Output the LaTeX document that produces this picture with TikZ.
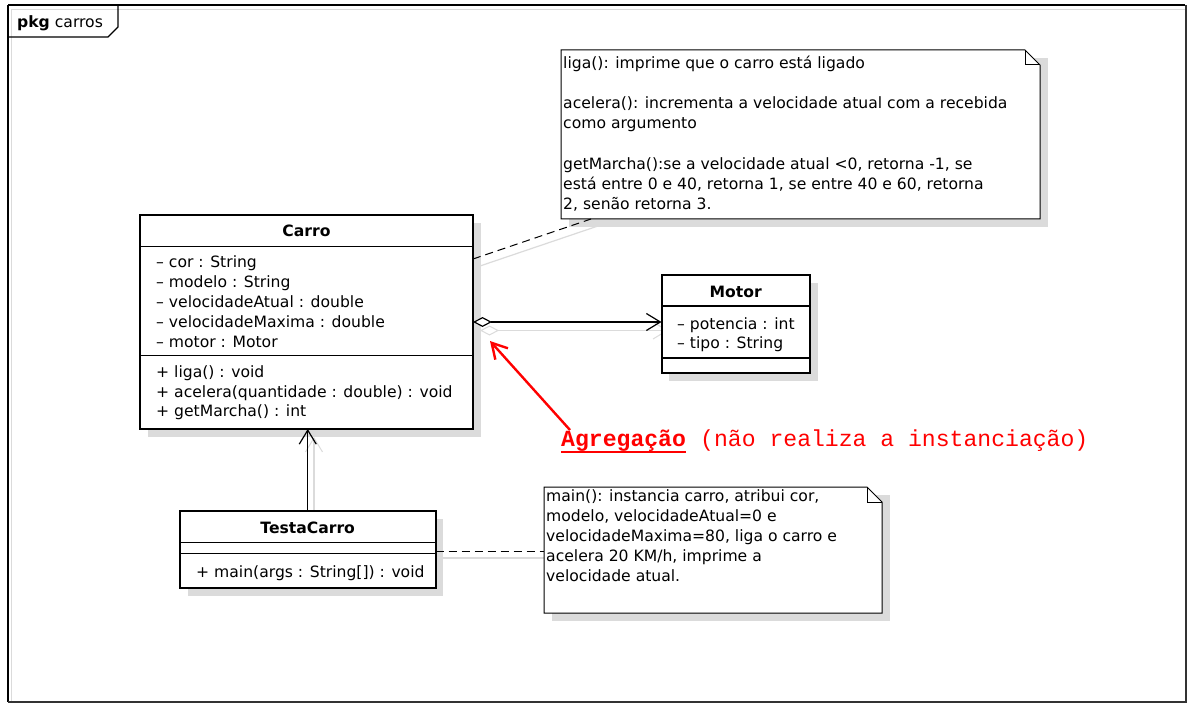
\documentclass[tikz,border=0pt]{standalone}
\usepackage{fontspec}
\setmainfont{DejaVu Sans}
\newfontfamily\redmono{Liberation Mono}
\usetikzlibrary{arrows.meta,calc}
\begin{document}
\begin{tikzpicture}[x=1pt,y=-1pt,
  umlbox/.style={draw, line width=2pt, fill=white, anchor=north west, inner sep=0pt, outer sep=0pt},
  notenode/.style={anchor=north west, inner sep=0pt, outer sep=0pt},
  shadowfill/.style={fill=black!14},
  sepline/.style={line width=1.3pt},
  txt/.style={anchor=base west, inner sep=0pt, font=\fontsize{15.6}{18}\selectfont},
  ttl/.style={anchor=base, inner sep=0pt, font=\fontsize{15.6}{18}\selectfont\bfseries},
  conn/.style={line width=1.2pt},
  ghost/.style={black!14, line width=1.2pt},
  opentip/.style={-{Straight Barb[length=14pt,width=17pt,line width=1.2pt]}},
  notelink/.style={line width=1pt, dash pattern=on 8pt off 5pt},
  notepath/.style={draw, fill=white, line width=1pt},
  redtxt/.style={anchor=base west, inner sep=0pt, text=red, font=\fontsize{23.1}{26}\redmono}
]
\useasboundingbox (0,0) rectangle (1190,708);
\fill[white] (0,0) rectangle (1190,708);

% package frame
\draw[black!14, line width=1pt] (11.5,702) -- (11.5,9.5) -- (1185,9.5);
\draw[line width=1.3pt] (8,5) -- (1185,5);
\draw[line width=1.3pt] (8,5) -- (8,702);
\draw[black!80, line width=2.2pt] (8,702) -- (1186,702) -- (1186,5);
\draw[line width=1.3pt] (8,37) -- (108,37) -- (118,27) -- (118,5);
\node[anchor=base west, inner sep=0pt, font=\fontsize{15.6}{18}\selectfont] (pkg) at (17,28) {\textbf{pkg} carros};

% ghost (shadow) connectors
\draw[ghost, {Diamond[open, length=19pt, width=10pt, line width=1pt, fill=white]}-{Straight Barb[length=14pt,width=17pt,line width=1pt]}] (480,330.5) -- (668,330.5);
\draw[ghost, -{Straight Barb[length=14pt,width=17pt,line width=1pt]}] (314,511) -- (314,437);
\draw[ghost] (442,558) -- (551,558);
\draw[ghost] (480,266) -- (598,226);

% shadows of boxes
\fill[shadowfill] (148,223) rectangle (481,437);
\fill[shadowfill] (669,283) rectangle (818,381);
\fill[shadowfill] (188,519) rectangle (443,596);
\fill[shadowfill] (569,58) rectangle (1048,227);
\fill[shadowfill] (552,495) rectangle (890,621);

% Carro
\node[umlbox, minimum width=333pt, minimum height=214pt] (carro) at (140,215) {};
\draw[sepline] ($(carro.north west)+(0,31.5)$) -- ($(carro.north east)+(0,31.5)$);
\draw[sepline] ($(carro.north west)+(0,140.5)$) -- ($(carro.north east)+(0,140.5)$);
\node[ttl] (carroT) at (306.5,237) {Carro};
\node[txt] (ca1) at (156,268) {– cor : String};
\node[txt] (ca2) at (156,288) {– modelo : String};
\node[txt] (ca3) at (156,307.7) {– velocidadeAtual : double};
\node[txt] (ca4) at (156,327.4) {– velocidadeMaxima : double};
\node[txt] (ca5) at (156,347) {– motor : Motor};
\node[txt] (cm1) at (156,377.5) {+ liga() : void};
\node[txt] (cm2) at (156,397) {+ acelera(quantidade : double) : void};
\node[txt] (cm3) at (156,416.5) {+ getMarcha() : int};

% Motor
\node[umlbox, minimum width=148.5pt, minimum height=98pt] (motor) at (661.5,275) {};
\draw[sepline] ($(motor.north west)+(0,31)$) -- ($(motor.north east)+(0,31)$);
\draw[sepline] ($(motor.north west)+(0,83)$) -- ($(motor.north east)+(0,83)$);
\node[ttl] (motorT) at (735.7,297.5) {Motor};
\node[txt] (ma1) at (677,329) {– potencia : int};
\node[txt] (ma2) at (677,348.5) {– tipo : String};

% TestaCarro
\node[umlbox, minimum width=255.5pt, minimum height=77pt] (testa) at (180,511) {};
\draw[sepline] ($(testa.north west)+(0,31.5)$) -- ($(testa.north east)+(0,31.5)$);
\draw[sepline] ($(testa.north west)+(0,42.5)$) -- ($(testa.north east)+(0,42.5)$);
\node[ttl] (testaT) at (307.7,533.5) {TestaCarro};
\node[txt] (tm1) at (196,577) {+ main(args : String[]) : void};

% Note 1
\node[notenode, minimum width=479pt, minimum height=169pt] (n1) at (561,50) {};
\draw[notepath] (n1.north west) -- ($(n1.north east)+(-15,0)$) -- ($(n1.north east)+(0,15)$) -- (n1.south east) -- (n1.south west) -- cycle;
\draw[line width=1pt] ($(n1.north east)+(-15,0)$) |- ($(n1.north east)+(0,15)$);
\node[txt] (n1a) at (563,69) {liga(): imprime que o carro está ligado};
\node[txt] (n1b) at (563,109) {acelera(): incrementa a velocidade atual com a recebida};
\node[txt] (n1c) at (563,129) {como argumento};
\node[txt] (n1d) at (563,170) {getMarcha():se a velocidade atual <0, retorna -1, se};
\node[txt] (n1e) at (563,190) {está entre 0 e 40, retorna 1, se entre 40 e 60, retorna};
\node[txt] (n1f) at (563,210) {2, senão retorna 3.};

% Note 2
\node[notenode, minimum width=338pt, minimum height=126pt] (n2) at (544,487) {};
\draw[notepath] (n2.north west) -- ($(n2.north east)+(-15,0)$) -- ($(n2.north east)+(0,15)$) -- (n2.south east) -- (n2.south west) -- cycle;
\draw[line width=1pt] ($(n2.north east)+(-15,0)$) |- ($(n2.north east)+(0,15)$);
\node[txt] (n2a) at (546,501) {main(): instancia carro, atribui cor,};
\node[txt] (n2b) at (546,521) {modelo, velocidadeAtual=0 e};
\node[txt] (n2c) at (546,541) {velocidadeMaxima=80, liga o carro e};
\node[txt] (n2d) at (546,561) {acelera 20 KM/h, imprime a};
\node[txt] (n2e) at (546,581) {velocidade atual.};

% connectors
\draw[conn, {Diamond[open, length=19pt, width=10pt, line width=1.2pt, fill=white]}-{Straight Barb[length=14pt,width=17pt,line width=1.2pt]}]
  (carro.east) -- (carro.east -| motor.west);
\draw[conn, opentip] (testa.north) -- (testa.north |- carro.south);
\draw[notelink] ($(carro.north east)+(0,44)$) -- ($(n1.south west)+(30,0)$);
\draw[notelink] (testa.east |- 0,551) -- (n2.west |- 0,551);

% red annotation
\node[redtxt, font=\fontsize{23.1}{26}\redmono\bfseries] (agrA) at (561,446.5) {Agregação};
\node[redtxt] (agrB) at (agrA.base east) {\ (não realiza a instanciação)};
\draw[red, line width=2pt] ($(agrA.base west)+(0,5)$) -- ($(agrA.base east)+(0,5)$);
\coordinate (rtail) at (570,430);
\coordinate (rtip) at (490,341);
\draw[red, line width=2.4pt, -{Straight Barb[length=15pt,width=17pt,line width=2.4pt]}] (rtail) -- (rtip);
\end{tikzpicture}
\end{document}
